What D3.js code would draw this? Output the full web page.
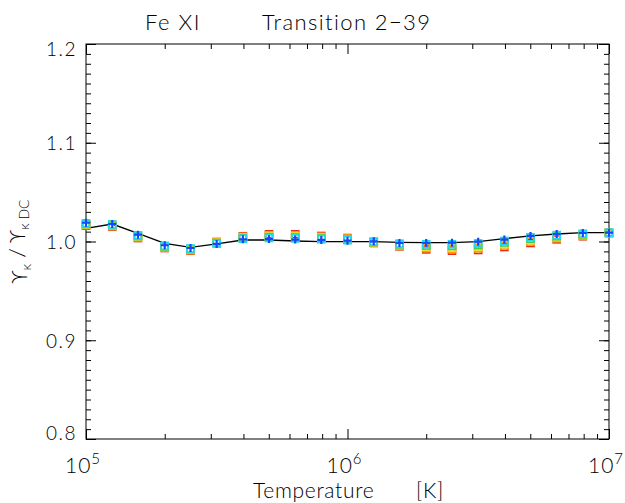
<!DOCTYPE html>
<html>
<head>
<meta charset="utf-8">
<script src="https://cdn.jsdelivr.net/npm/d3@7"></script>
<style>
  body { margin: 0; background: #fff; }
  text { font-family: "Lato", "DejaVu Sans", sans-serif; font-weight: 300; fill: #000; }
</style>
</head>
<body>
<svg width="625" height="503"></svg>
<script>
// temperatures, 0.1 dex steps
var temps = [1.00e5, 1.26e5, 1.58e5, 2.00e5, 2.51e5, 3.16e5, 3.98e5, 5.01e5, 6.31e5, 7.94e5,
             1.00e6, 1.26e6, 1.58e6, 2.00e6, 2.51e6, 3.16e6, 3.98e6, 5.01e6, 6.31e6, 7.94e6, 1.00e7];

// black reference curve
var lineVals = [1.0134, 1.0177, 1.0083, 0.9980, 0.9941, 0.9975, 1.0015, 1.0015, 1.0005, 0.9998,
                0.9998, 0.9998, 0.9992, 0.9988, 0.9988, 0.9998, 1.0029, 1.0056, 1.0076, 1.0089, 1.0089];

// square series (drawn red first, cyan last)
var redVals    = [1.0160, 1.0150, 1.0035, 0.9934, 0.9907, 0.9995, 1.0053, 1.0073, 1.0073, 1.0056,
                  1.0035, 0.9985, 0.9951, 0.9920, 0.9907, 0.9914, 0.9944, 0.9985, 1.0022, 1.0053, 1.0086];
var orangeVals = [1.0166, 1.0155, 1.0042, 0.9940, 0.9912, 0.9991, 1.0047, 1.0063, 1.0062, 1.0048,
                  1.0030, 0.9988, 0.9958, 0.9933, 0.9923, 0.9931, 0.9959, 0.9999, 1.0033, 1.0060, 1.0087];
var yellowVals = [1.0172, 1.0161, 1.0049, 0.9945, 0.9918, 0.9987, 1.0041, 1.0054, 1.0052, 1.0040,
                  1.0024, 0.9992, 0.9965, 0.9946, 0.9939, 0.9948, 0.9974, 1.0013, 1.0044, 1.0066, 1.0087];
var greenVals  = [1.0178, 1.0166, 1.0055, 0.9951, 0.9923, 0.9983, 1.0034, 1.0044, 1.0041, 1.0031,
                  1.0019, 0.9995, 0.9971, 0.9959, 0.9956, 0.9964, 0.9990, 1.0028, 1.0054, 1.0073, 1.0088];
var cyanVals   = [1.0184, 1.0172, 1.0062, 0.9956, 0.9929, 0.9979, 1.0028, 1.0035, 1.0031, 1.0023,
                  1.0013, 0.9999, 0.9978, 0.9972, 0.9972, 0.9981, 1.0005, 1.0042, 1.0065, 1.0079, 1.0088];
// blue plus series
var plusVals   = [1.0190, 1.0177, 1.0069, 0.9962, 0.9934, 0.9975, 1.0022, 1.0025, 1.0020, 1.0015,
                  1.0008, 1.0002, 0.9985, 0.9985, 0.9988, 0.9998, 1.0020, 1.0056, 1.0076, 1.0086, 1.0089];

var squareSeries = [
    { vals: redVals,    color: "#f02818" },
    { vals: orangeVals, color: "#ff9a10" },
    { vals: yellowVals, color: "#e8e020" },
    { vals: greenVals,  color: "#40d050" },
    { vals: cyanVals,   color: "#20d8f0" }
];

var yTickVals = [0.8, 0.9, 1.0, 1.1, 1.2];

var svg = d3.select("svg"),
    margin = { left: 86, right: 16, top: 44, bottom: 64 },
    width = +svg.attr("width") - margin.left - margin.right,
    height = +svg.attr("height") - margin.top - margin.bottom;

var x = d3.scaleLog().domain([1e5, 1e7]).range([0, width]);
var y = d3.scaleLinear().domain([0.8, 1.2]).range([height, 0]);

var g = svg.append("g")
    .attr("transform", "translate(" + margin.left + "," + margin.top + ")");

// tick marks on all four sides, pointing inward
function tickAxis(axisFn, scale, vals, size, tx) {
    var a = g.append("g")
        .attr("transform", tx)
        .call(axisFn(scale).tickValues(vals).tickSize(size).tickFormat(""));
    a.select(".domain").remove();
    a.selectAll("line").attr("stroke", "#000").attr("stroke-width", 1);
}

var xMajor = [1e5, 1e6, 1e7];
var xMinor = x.ticks().filter(function (d) { return xMajor.indexOf(d) < 0; });
var yMinor = y.ticks(40);

tickAxis(d3.axisBottom, x, xMajor, -10, "translate(0," + height + ")");
tickAxis(d3.axisBottom, x, xMinor, -5, "translate(0," + height + ")");
tickAxis(d3.axisTop, x, xMajor, -10, "translate(0,0)");
tickAxis(d3.axisTop, x, xMinor, -5, "translate(0,0)");
tickAxis(d3.axisLeft, y, yTickVals, -10, "translate(0,0)");
tickAxis(d3.axisLeft, y, yMinor, -5, "translate(0,0)");
tickAxis(d3.axisRight, y, yTickVals, -10, "translate(" + width + ",0)");
tickAxis(d3.axisRight, y, yMinor, -5, "translate(" + width + ",0)");

g.append("rect")
    .attr("width", width)
    .attr("height", height)
    .attr("fill", "none")
    .attr("stroke", "#000")
    .attr("stroke-width", 1);

// y tick labels
g.selectAll(".ylab")
    .data(yTickVals)
    .enter().append("text")
    .attr("class", "ylab")
    .attr("x", -9)
    .attr("y", function (d) {
        var nudge = d === 1.2 ? 5 : (d === 0.8 ? -6 : 1);
        return y(d) + nudge;
    })
    .attr("dy", "0.35em")
    .attr("text-anchor", "end")
    .attr("font-size", "19px")
    .attr("letter-spacing", "1.5px")
    .text(function (d) { return d.toFixed(1); });

// x tick labels 10^n
var xl = g.selectAll(".xlab")
    .data(xMajor)
    .enter().append("text")
    .attr("class", "xlab")
    .attr("x", function (d) { return x(d) - 3; })
    .attr("y", height + 34)
    .attr("text-anchor", "middle")
    .attr("font-size", "21px")
    .attr("letter-spacing", "1px");
xl.append("tspan").text("10");
xl.append("tspan")
    .attr("dy", "-0.6em")
    .attr("font-size", "15px")
    .text(function (d) { return Math.round(Math.log10(d)); });

// black curve
var line = d3.line()
    .x(function (d, i) { return x(temps[i]); })
    .y(function (d) { return y(d); });

g.append("path")
    .datum(lineVals)
    .attr("d", line)
    .attr("fill", "none")
    .attr("stroke", "#000")
    .attr("stroke-width", 1.3);

// open squares
var sq = 7;
squareSeries.forEach(function (s) {
    g.selectAll(null)
        .data(s.vals)
        .enter().append("rect")
        .attr("x", function (d, i) { return x(temps[i]) - sq / 2; })
        .attr("y", function (d) { return y(d) - sq / 2; })
        .attr("width", sq)
        .attr("height", sq)
        .attr("fill", "none")
        .attr("stroke", s.color)
        .attr("stroke-width", 1.6);
});

// blue plus
g.selectAll(".plus")
    .data(plusVals)
    .enter().append("path")
    .attr("class", "plus")
    .attr("transform", function (d, i) { return "translate(" + x(temps[i]) + "," + y(d) + ")"; })
    .attr("d", "M-4,0H4M0,-4V4")
    .attr("stroke", "#1448ff")
    .attr("stroke-width", 2.2);

// title
svg.append("text")
    .attr("x", 145)
    .attr("y", 30)
    .attr("font-size", "22px")
    .attr("letter-spacing", "1.5px")
    .text("Fe XI");
svg.append("text")
    .attr("x", 262)
    .attr("y", 30)
    .attr("font-size", "22px")
    .attr("letter-spacing", "1.4px")
    .text("Transition 2\u221239");

// x title
var xt = svg.append("text")
    .attr("y", 498)
    .attr("font-size", "21px")
    .attr("letter-spacing", "0.7px");
xt.append("tspan").attr("x", 253).text("Temperature");
xt.append("tspan").attr("x", 416).text("[K]");

// y title
var yt = svg.append("text")
    .attr("transform", "translate(27," + (margin.top + height / 2) + ") rotate(-90)")
    .attr("text-anchor", "middle")
    .attr("font-size", "22px")
    .attr("xml:space", "preserve");
yt.append("tspan").text("\u03d2");
yt.append("tspan").attr("dy", "0.3em").attr("font-size", "14px").text("\u03ba");
yt.append("tspan").attr("dy", "-0.3em").text(" / \u03d2");
yt.append("tspan").attr("dy", "0.3em").attr("font-size", "14px").text("\u03ba DC");
</script>
</body>
</html>
